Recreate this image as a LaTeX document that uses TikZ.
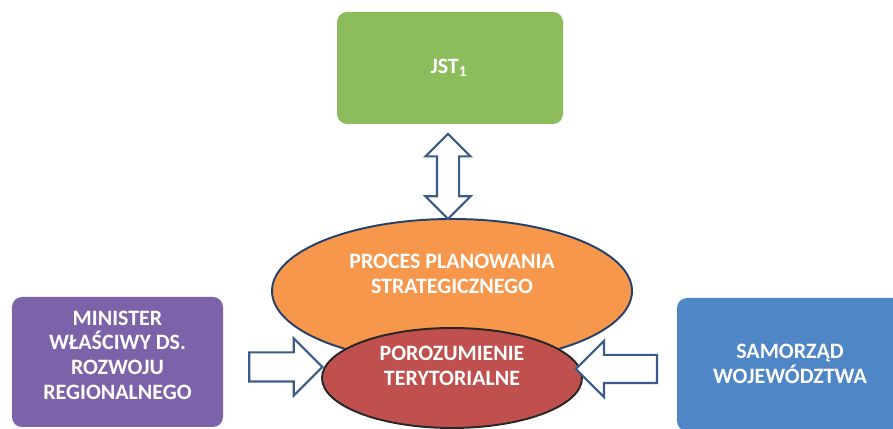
\documentclass[tikz,border=0pt]{standalone}
\usepackage{fontspec}
\setmainfont{Carlito}
\usetikzlibrary{arrows.meta, positioning, shapes.arrows, shapes.geometric}

\definecolor{jstgreen}{HTML}{8DBC5C}
\definecolor{ministerpurple}{HTML}{7C62A8}
\definecolor{samorzadblue}{HTML}{4F86C6}
\definecolor{planorange}{HTML}{F6974C}
\definecolor{porozred}{HTML}{BF504D}
\definecolor{arrowline}{HTML}{3B5C88}
\definecolor{ellipseline}{HTML}{23406A}

\begin{document}
\begin{tikzpicture}[
    box/.style={
        rectangle,
        rounded corners=0.2cm,
        inner sep=0pt,
    },
    boxtext/.style={
        text=white,
        align=center,
        inner sep=0pt,
        font=\fontsize{12.5}{14}\selectfont\bfseries,
    },
    oval/.style={
        ellipse,
        draw,
        line width=1.1pt,
        inner sep=0pt,
    },
    blockarrow/.style={
        single arrow,
        draw=arrowline,
        fill=white,
        line width=1.2pt,
        inner xsep=0pt,
        single arrow head extend=0.28cm,
    },
    twoway/.style={
        double arrow,
        draw=arrowline,
        fill=white,
        line width=1.2pt,
        inner xsep=0.2cm,
        inner ysep=0pt,
        double arrow head extend=0.23cm,
        shape border rotate=90,
    }
]
    \useasboundingbox (0,0) rectangle (17.86,8.58);

    % Boxes
    \node[box, fill=jstgreen, minimum width=4.52cm, minimum height=2.24cm] (jst) at (9.0,7.22) {};
    \node[box, fill=ministerpurple, minimum width=4.22cm, minimum height=2.6cm] (minister) at (2.35,1.34) {};
    \node[box, fill=samorzadblue, minimum width=4.72cm, minimum height=2.66cm] (samorzad) at (15.9,1.29) {};

    % Box labels
    \node[boxtext] (jsttext) at ([xshift=-0.02cm]jst.center) {JST\textsubscript{1}};
    \node[boxtext] (ministertext) at ([yshift=0.14cm]minister.center)
        {MINISTER\\WŁAŚCIWY DS.\\ROZWOJU\\REGIONALNEGO};
    \node[boxtext] (samorzadtext) at (15.8,1.3) {SAMORZĄD\\WOJEWÓDZTWA};

    % Ellipses
    \node[oval, fill=planorange, draw=ellipseline, minimum width=7.2cm, minimum height=2.88cm] (plan) at (9.04,2.76) {};
    \node[boxtext] (plantext) at (9.04,3.1) {PROCES PLANOWANIA\\STRATEGICZNEGO};
    \node[oval, fill=porozred, draw=black!85, minimum width=5.2cm, minimum height=2.0cm] (poroz) at (9.04,1.02) {};
    \node[boxtext] (poroztext) at (9.04,1.26) {POROZUMIENIE\\TERYTORIALNE};

    % Arrows
    \node[twoway, minimum height=1.7cm, minimum width=0.86cm, below=0.16cm of jst, xshift=-0.04cm] (link) {};
    \node[blockarrow, inner ysep=0.27cm, minimum height=1.46cm, minimum width=1.1cm] (fromminister) at (5.57,1.24) {};
    \node[blockarrow, inner ysep=0.26cm, shape border rotate=180, minimum height=1.62cm, minimum width=1.0cm] (fromsamorzad) at (12.47,1.2) {};
\end{tikzpicture}
\end{document}
